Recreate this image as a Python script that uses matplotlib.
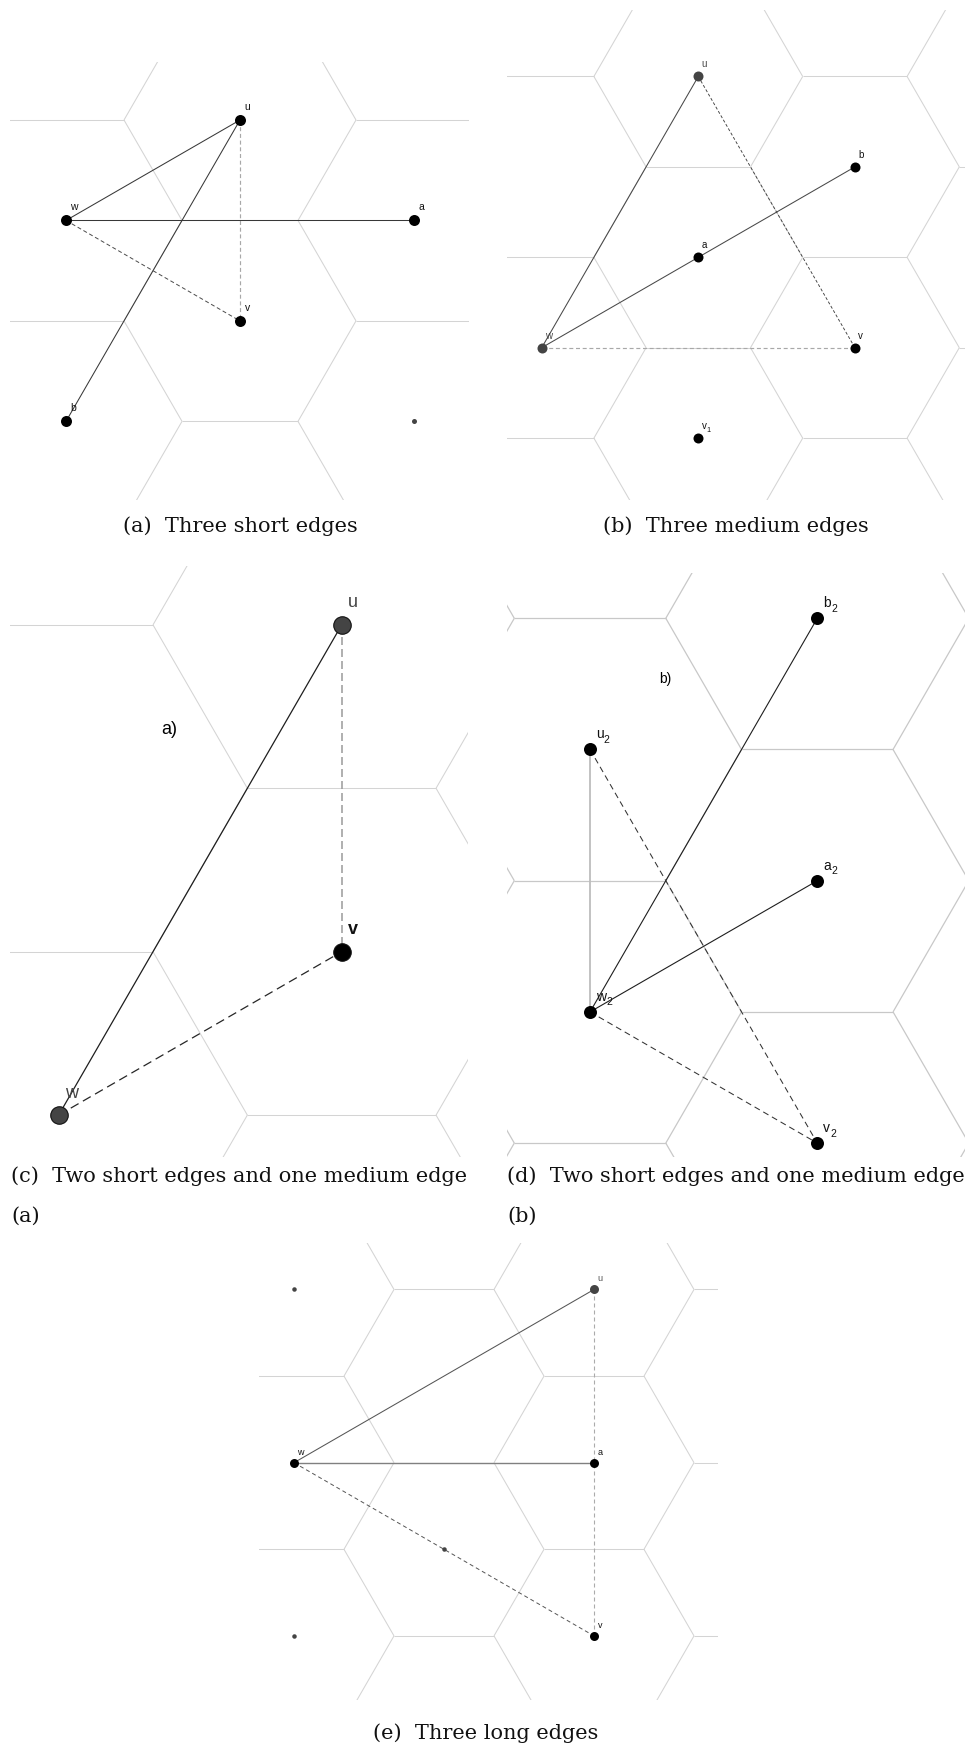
import numpy as np
import matplotlib
matplotlib.use("Agg")
import matplotlib.pyplot as plt
from matplotlib.collections import LineCollection
from matplotlib.font_manager import FontProperties
from matplotlib.textpath import text_to_path

plt.rcParams['font.family'] = ['Liberation Sans', 'DejaVu Sans']
plt.rcParams['lines.scale_dashes'] = False

# ---------------------------------------------------------------------------
# Node cells on the hexagonal lattice: (column, row); x = 1.5*col, y = sqrt(3)/2*row
# Labels are (letter, subscript) pairs.
# ---------------------------------------------------------------------------
# (a) three short edges
a_nodes = ['u', 'w', 'a', 'v', 'b']
a_cells = [(0, 1), (-1, 0), (1, 0), (0, -1), (-1, -2)]
a_labels = [('u', ''), ('w', ''), ('a', ''), ('v', ''), ('b', '')]
a_dots = [(1, -2)]
a_solid = [('w', 'u'), ('w', 'a'), ('u', 'b')]
a_dashed = [('w', 'v')]
a_dashed_light = [('u', 'v')]

# (b) three medium edges
b_nodes = ['u', 'b', 'a', 'w', 'v', 'v1']
b_cells = [(0, 2), (1, 1), (0, 0), (-1, -1), (1, -1), (0, -2)]
b_labels = [('u', ''), ('b', ''), ('a', ''), ('w', ''), ('v', ''), ('v', '1')]
b_solid = [('w', 'u'), ('w', 'b')]
b_dashed = [('u', 'v')]
b_dashed_light = [('w', 'v')]

# (c) two short edges and one medium edge, case a)
c_nodes = ['u', 'v', 'w']
c_cells = [(0, 2), (0, 0), (-1, -1)]
c_labels = [('u', ''), ('v', ''), ('w', '')]
c_solid = [('w', 'u')]
c_dashed = [('w', 'v')]
c_dashed_light = [('u', 'v')]

# (d) two short edges and one medium edge, case b)
d_nodes = ['b2', 'u2', 'a2', 'w2', 'v2']
d_cells = [(0, 2), (-1, 1), (0, 0), (-1, -1), (0, -2)]
d_labels = [('b', '2'), ('u', '2'), ('a', '2'), ('w', '2'), ('v', '2')]
d_solid = [('w2', 'b2'), ('w2', 'a2')]
d_solid_light = [('u2', 'w2')]
d_dashed = [('u2', 'v2'), ('w2', 'v2')]

# (e) three long edges
e_nodes = ['u', 'a', 'v', 'w']
e_cells = [(0, 2), (0, 0), (0, -2), (-2, 0)]
e_labels = [('u', ''), ('a', ''), ('v', ''), ('w', '')]
e_dots = [(-2, 2), (-2, -2), (-1, -1)]
e_solid = [('w', 'u')]
e_solid_light = [('w', 'a')]
e_dashed = [('w', 'v')]
e_dashed_light = [('u', 'v')]

captions = ['(a)  Three short edges',
            '(b)  Three medium edges',
            '(c)  Two short edges and one medium edge',
            '(d)  Two short edges and one medium edge',
            '(e)  Three long edges']
caption_tails = ['(a)', '(b)']
panel_tags = ['a)', 'b)']

# ---------------------------------------------------------------------------
W, H, DPI = 965, 1748, 100
S3 = np.sqrt(3) / 2
PT = 72.0 / DPI  # points per pixel
LABEL_FONT = 'Liberation Sans'

fig = plt.figure(figsize=(W / DPI, H / DPI), dpi=DPI)
fig.patch.set_facecolor('white')


def cell_xy(c):
    return 1.5 * c[0], S3 * c[1]


def text_width_pt(s, size, weight='normal'):
    prop = FontProperties(family=LABEL_FONT, size=size, weight=weight)
    w, _, _ = text_to_path.get_text_width_height_descent(s, prop, ismath=False)
    return w


def hex_grid(ax, parity, xlim, ylim, color, lw):
    ang = np.deg2rad(np.arange(0, 181, 60))
    vx, vy = np.cos(ang), np.sin(ang)
    segs = []
    for i in range(int(np.floor(xlim[0] / 1.5)) - 2, int(np.ceil(xlim[1] / 1.5)) + 3):
        for j in range(int(np.floor(ylim[0] / S3)) - 3, int(np.ceil(ylim[1] / S3)) + 4):
            if (i + j) % 2 != parity:
                continue
            cx, cy = 1.5 * i, S3 * j
            pts = np.column_stack([cx + vx, cy + vy])
            for k in range(3):  # upper three edges; lower ones belong to neighbours
                segs.append([pts[k], pts[k + 1]])
    ax.add_collection(LineCollection(segs, colors=color, linewidths=lw,
                                     zorder=1, capstyle='butt'))


def panel(box, anchor, anchor_px, scale, nodes, cells, labels, edge_groups,
          node_fill, node_size, label_size, label_off, dots=(), dot_size=4.5,
          node_edge=None, grid_color='#d4d4d4', grid_lw=0.75, label_colors=None,
          label_weights=None):
    l, t, r, b = box
    ax = fig.add_axes([l / W, 1 - b / H, (r - l) / W, (b - t) / H])
    ax.set_axis_off()
    x0, y0 = cell_xy(cells[nodes.index(anchor)])
    xlim = (x0 + (l - anchor_px[0]) / scale, x0 + (r - anchor_px[0]) / scale)
    ylim = (y0 - (b - anchor_px[1]) / scale, y0 + (anchor_px[1] - t) / scale)
    ax.set_xlim(*xlim)
    ax.set_ylim(*ylim)
    parity = (cells[0][0] + cells[0][1]) % 2
    hex_grid(ax, parity, xlim, ylim, grid_color, grid_lw)

    pos = {n: cell_xy(c) for n, c in zip(nodes, cells)}
    for pairs, kw in edge_groups:
        for p, q in pairs:
            (x1, y1), (x2, y2) = pos[p], pos[q]
            ax.plot([x1, x2], [y1, y2], zorder=2, solid_capstyle='butt',
                    dash_capstyle='butt', **kw)

    for d in dots:
        x, y = cell_xy(d)
        ax.plot(x, y, 'o', ms=dot_size * PT, mfc='#444444', mec='none', zorder=3)

    for n, (base, sub) in zip(nodes, labels):
        x, y = pos[n]
        fill = node_fill.get(n, 'black')
        ec = node_edge if node_edge else 'none'
        ax.plot(x, y, 'o', ms=node_size * PT, mfc=fill, mec=ec,
                mew=0.8 if node_edge else 0, zorder=3, clip_on=False)
        col = (label_colors or {}).get(n, '#111111')
        wt = (label_weights or {}).get(n, 'normal')
        ox, oy = label_off[0] * PT, label_off[1] * PT
        ax.annotate(base, (x, y), xytext=(ox, oy), textcoords='offset points',
                    ha='left', va='baseline', color=col, fontweight=wt,
                    fontsize=label_size, zorder=4, annotation_clip=False)
        if sub:
            sx = ox + text_width_pt(base, label_size, wt)
            sy = oy - 0.33 * label_size
            ax.annotate(sub, (x, y), xytext=(sx, sy), textcoords='offset points',
                        ha='left', va='baseline', color=col,
                        fontsize=label_size * 0.75, zorder=4, annotation_clip=False)
    return ax


def dash(on, off):
    return (0, (on * PT, off * PT))


# (a)
panel((10, 61.7, 469, 500), 'u', (240, 120), 116.0,
      a_nodes, a_cells, a_labels,
      [(a_solid, dict(color='#383838', lw=0.75)),
       (a_dashed, dict(color='#4a4a4a', lw=0.7, ls=dash(4, 2.7))),
       (a_dashed_light, dict(color='#a8a8a8', lw=0.85, ls=dash(4, 2.7)))],
      node_fill={}, node_size=11, label_size=7.5,
      label_off=(4.5, 10), dots=a_dots, dot_size=5)

# (b)
panel((507.3, 10, 966, 500), 'a', (698.3, 257.3), 104.4,
      b_nodes, b_cells, b_labels,
      [(b_solid, dict(color='#484848', lw=0.75)),
       (b_dashed, dict(color='#404040', lw=0.65, ls=dash(3, 2))),
       (b_dashed_light, dict(color='#a8a8a8', lw=0.85, ls=dash(4, 2.7)))],
      node_fill={'u': '#444444', 'w': '#444444'}, node_size=10,
      label_size=7, label_off=(3.5, 9),
      label_colors={'u': '#444444', 'w': '#444444'})

# (c)
panel((10, 566, 468.3, 1157), 'v', (341.7, 951.7), 188.7,
      c_nodes, c_cells, c_labels,
      [(c_solid, dict(color='#1e1e1e', lw=0.9)),
       (c_dashed, dict(color='#262626', lw=0.9, ls=dash(9, 5))),
       (c_dashed_light, dict(color='#9a9a9a', lw=1.1, ls=dash(8, 4)))],
      node_fill={'u': '#444444', 'w': '#444444'}, node_size=17.5, node_edge='#111111',
      label_size=13, label_off=(6.5, 17.5),
      label_colors={'u': '#444444', 'w': '#444444'}, label_weights={'v': 'bold'})

# (d)
panel((507.3, 572.7, 966, 1157), 'a2', (817.3, 880.7), 151.5,
      d_nodes, d_cells, d_labels,
      [(d_solid_light, dict(color='#bdbdbd', lw=1.3)),
       (d_solid, dict(color='#1e1e1e', lw=0.8)),
       (d_dashed, dict(color='#333333', lw=0.75, ls=dash(6, 4)))],
      node_fill={}, node_size=13, label_size=10,
      label_off=(6, 11), grid_color='#c8c8c8', grid_lw=0.9)

# (e)
panel((259.3, 1243.3, 717.7, 1700), 'a', (594, 1462.7), 100.0,
      e_nodes, e_cells, e_labels,
      [(e_solid, dict(color='#555555', lw=0.75)),
       (e_solid_light, dict(color='#808080', lw=1.0)),
       (e_dashed, dict(color='#555555', lw=0.7, ls=dash(4, 3))),
       (e_dashed_light, dict(color='#ababab', lw=0.8, ls=dash(4, 3)))],
      node_fill={'u': '#444444'}, node_size=9, label_size=6.5,
      label_off=(3.5, 8), dots=e_dots, dot_size=4.5,
      label_colors={'u': '#555555'})

# panel tags inside (c) and (d)
fig.text(169 / W, 1 - 729 / H, panel_tags[0], ha='center', va='center', fontsize=13)
fig.text(665 / W, 1 - 679 / H, panel_tags[1], ha='center', va='center', fontsize=10)

# sub-captions
cap = dict(family='DejaVu Serif', fontsize=15, va='baseline', color='#111111')
fig.text(240 / W, 1 - 532 / H, captions[0], ha='center', **cap)
fig.text(736 / W, 1 - 532 / H, captions[1], ha='center', **cap)
fig.text(11 / W, 1 - 1182 / H, captions[2], ha='left', **cap)
fig.text(11 / W, 1 - 1222 / H, caption_tails[0], ha='left', **cap)
fig.text(507 / W, 1 - 1182 / H, captions[3], ha='left', **cap)
fig.text(507 / W, 1 - 1222 / H, caption_tails[1], ha='left', **cap)
fig.text(486 / W, 1 - 1739 / H, captions[4], ha='center', **cap)

fig.savefig('out.png', dpi=DPI, facecolor='white')
